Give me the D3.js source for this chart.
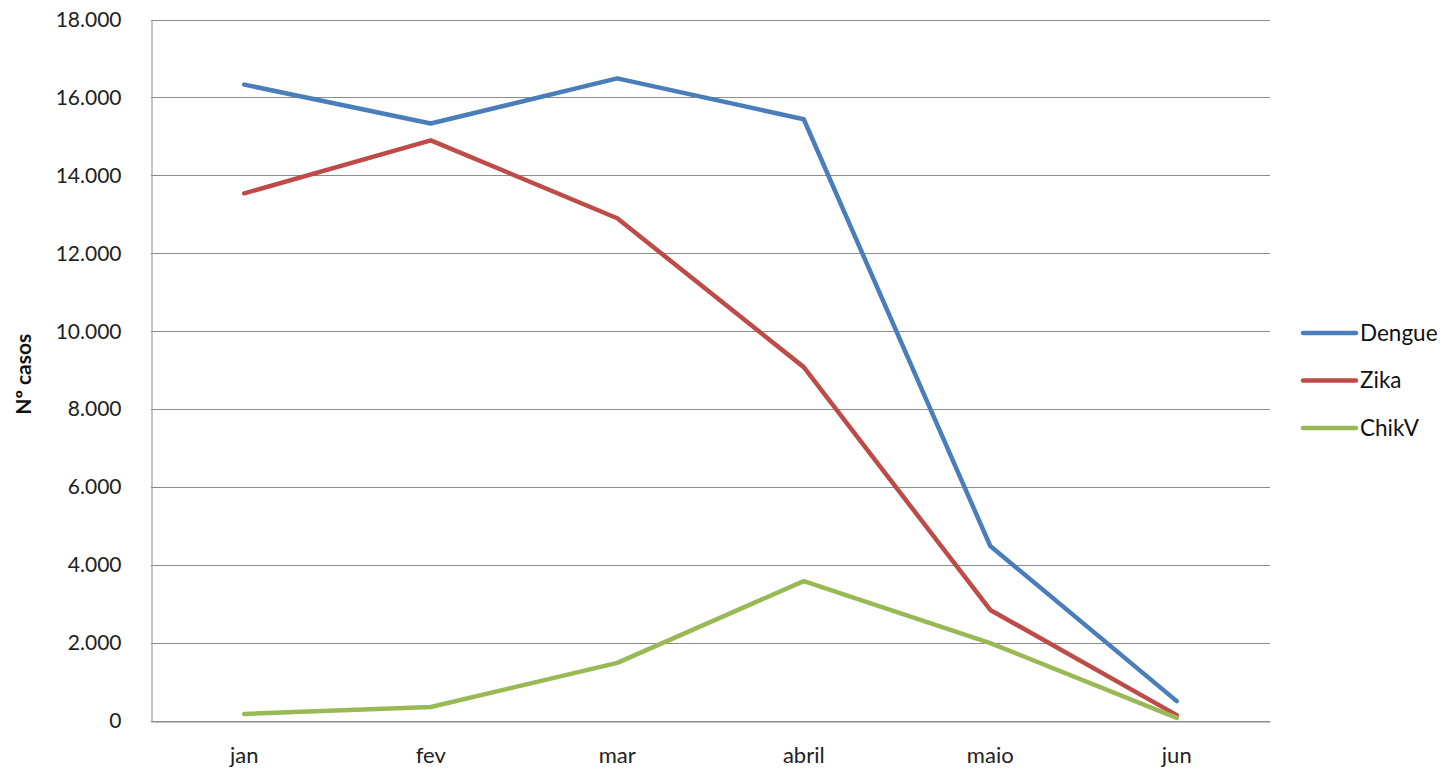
<!DOCTYPE html>
<html>
<head>
<meta charset="utf-8">
<script src="https://cdn.jsdelivr.net/npm/d3@7"></script>
<style>
  html, body { margin: 0; padding: 0; background: #fff; }
  svg { display: block; font-family: Lato, "Open Sans", "Liberation Sans", sans-serif; }
</style>
</head>
<body>
<svg id="chart" width="1453" height="772"></svg>
<script>
// Monthly case counts per arbovirus
const months = ["jan", "fev", "mar", "abril", "maio", "jun"];
const dengue = [16330, 15330, 16490, 15440, 4490, 510];
const zika   = [13540, 14900, 12900, 9080, 2850, 150];
const chikv  = [180, 360, 1490, 3590, 2000, 80];
const seriesNames = ["Dengue", "Zika", "ChikV"];
const seriesColors = ["#4a7ebb", "#be4b48", "#98b954"];
const yTicks = [0, 2000, 4000, 6000, 8000, 10000, 12000, 14000, 16000, 18000];
const yTitle = "Nº casos";

const series = [dengue, zika, chikv].map((values, i) => ({
  name: seriesNames[i], color: seriesColors[i], values
}));

const svg = d3.select("#chart");
const margin = { left: 151, right: 1270, top: 19.5, bottom: 721 };

const x = d3.scaleBand().domain(months).range([margin.left, margin.right]);
const y = d3.scaleLinear().domain([0, 18000]).range([margin.bottom, margin.top]);

const fmt = v => d3.format(",")(v).replace(/,/g, ".");

// horizontal gridlines
svg.append("g")
  .selectAll("line")
  .data(yTicks)
  .join("line")
  .attr("x1", margin.left).attr("x2", margin.right)
  .attr("y1", d => Math.round(y(d)) + 0.5).attr("y2", d => Math.round(y(d)) + 0.5)
  .attr("stroke", "#8c8c8c").attr("stroke-width", 1);

// y axis
const yAxis = svg.append("g")
  .attr("transform", `translate(${margin.left + 0.5},0)`)
  .call(d3.axisLeft(y).tickValues(yTicks).tickFormat(fmt).tickSize(0).tickPadding(30));
yAxis.select(".domain").attr("stroke", "#8c8c8c");
yAxis.selectAll("text")
  .attr("font-size", 21).attr("fill", "#222")
  .attr("font-family", "Lato, 'Open Sans', sans-serif");

// x axis
const xAxis = svg.append("g")
  .attr("transform", `translate(0,${Math.round(y(0)) + 0.5})`)
  .call(d3.axisBottom(x).tickSize(0).tickPadding(26));
xAxis.select(".domain").attr("stroke", "#8c8c8c");
xAxis.selectAll("text")
  .attr("font-size", 22).attr("fill", "#222")
  .attr("font-family", "Lato, 'Open Sans', sans-serif");

// y axis title
svg.append("text")
  .attr("transform", `translate(31,${(margin.top + margin.bottom) / 2 + 4}) rotate(-90)`)
  .attr("text-anchor", "middle")
  .attr("font-size", 21).attr("font-weight", "bold").attr("fill", "#111")
  .text(yTitle);

// series lines
const line = d3.line()
  .x((d, i) => x(months[i]) + x.bandwidth() / 2)
  .y(d => y(d));

svg.append("g")
  .selectAll("path")
  .data(series)
  .join("path")
  .attr("d", d => line(d.values))
  .attr("fill", "none")
  .attr("stroke", d => d.color)
  .attr("stroke-width", 4.5)
  .attr("stroke-linejoin", "round")
  .attr("stroke-linecap", "round");

// legend
const legend = svg.append("g")
  .selectAll("g")
  .data(series)
  .join("g")
  .attr("transform", (d, i) => `translate(1303,${333 + i * 47.5})`);
legend.append("line")
  .attr("x1", 0).attr("x2", 53)
  .attr("stroke", d => d.color).attr("stroke-width", 4.5)
  .attr("stroke-linecap", "round");
legend.append("text")
  .attr("x", 57).attr("dy", "0.35em")
  .attr("font-size", 22.5).attr("fill", "#111")
  .text(d => d.name);
</script>
</body>
</html>
